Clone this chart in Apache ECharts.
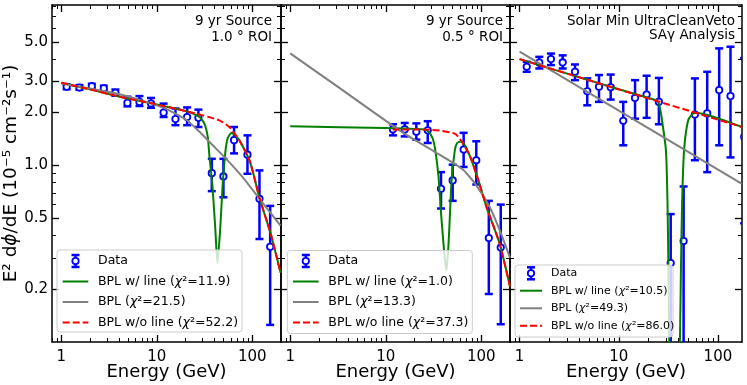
<!DOCTYPE html>
<html><head><meta charset="utf-8">
<script src="https://cdn.jsdelivr.net/npm/echarts@6/dist/echarts.min.js"></script>
<style>html,body{margin:0;padding:0;background:#fff}#c{width:747px;height:385px}</style>
</head><body><div id="c"></div>
<script>
// ---------------- data ----------------
const xMajorTicks = [1, 10, 100];
const xMinorTicks = [0.8, 0.9, 2, 3, 4, 5, 6, 7, 8, 9, 20, 30, 40, 50, 60, 70, 80, 90, 200];
const yMajorTicks = [0.2, 0.5, 1, 2, 3, 5];
const yMinorTicks = [0.3, 0.4, 0.6, 0.7, 0.8, 0.9, 4, 6, 7, 8];

// Panel 1: 9 yr Source, 1.0 deg ROI
const p1E  = [1.14, 1.55, 2.09, 2.79, 3.69, 4.93, 6.59, 8.71, 11.8, 15.7, 20.8, 27.3, 37.7, 49.9, 64.5, 89.1, 119, 154];
const p1V  = [2.79, 2.76, 2.81, 2.73, 2.58, 2.26, 2.29, 2.24, 1.99, 1.83, 1.88, 1.86, 0.904, 0.866, 1.39, 1.15, 0.647, 0.346];
const p1Lo = [2.70, 2.68, 2.72, 2.64, 2.48, 2.16, 2.17, 2.12, 1.88, 1.69, 1.69, 1.65, 0.715, 0.66, 1.17, 0.897, 0.383, 0.125];
const p1Hi = [2.88, 2.85, 2.90, 2.83, 2.69, 2.45, 2.47, 2.41, 2.24, 2.10, 2.13, 2.07, 1.09, 1.09, 1.65, 1.48, 0.937, 0.59];
const p1Green = [[1,2.94],[1.82,2.73],[4.07,2.45],[9.1,2.24],[20.2,2.03],[28,1.88],[31.6,1.72],[34.2,1.45],[35.6,1.13],[38.4,0.75],[41.1,0.43],[43.2,0.279],[46.1,0.43],[48.8,0.75],[52.1,1.17],[55.1,1.42],[60.6,1.53],[67,1.47],[73.3,1.39],[93.4,1.07],[105,0.858],[118.5,0.66],[156,0.41],[198,0.247]];
const p1Gray  = [[1,2.91],[4.07,2.53],[11.5,2.13],[20.2,1.82],[28,1.55],[38.6,1.30],[53.3,1.09],[79.3,0.858],[119,0.647],[198,0.456]];
const p1Red   = [[1,2.94],[1.82,2.73],[4.07,2.45],[9.1,2.24],[20.2,2.03],[30.3,1.92],[45.2,1.80],[57.6,1.65],[73.3,1.39],[93.4,1.07],[105,0.858],[118.5,0.66],[156,0.41],[198,0.247]];
const p1Labels = ['Data', 'BPL w/ line (χ²=11.9)', 'BPL (χ²=21.5)', 'BPL w/o line (χ²=52.2)'];

// Panel 2: 9 yr Source, 0.5 deg ROI
const p2E  = [11.9, 15.8, 20.9, 27.5, 37.9, 50.2, 65.4, 88.7, 120, 160];
const p2V  = [1.60, 1.60, 1.55, 1.58, 0.737, 0.822, 1.23, 1.07, 0.388, 0.343];
const p2Lo = [1.48, 1.46, 1.40, 1.34, 0.57, 0.63, 0.98, 0.78, 0.187, 0.126];
const p2Hi = [1.71, 1.74, 1.73, 1.78, 0.916, 1.01, 1.53, 1.37, 0.63, 0.60];
const p2Green = [[1,1.665],[10,1.63],[25,1.60],[28.1,1.55],[31,1.42],[33,1.22],[35.7,0.86],[38.2,0.51],[41,0.32],[43.2,0.254],[45,0.33],[46.2,0.43],[48.9,0.82],[52.9,1.22],[55.5,1.33],[58.9,1.36],[62.8,1.36],[76.6,1.12],[93.5,0.82],[113.8,0.58],[156,0.36],[200,0.206]];
const p2Gray  = [[1,4.31],[3,2.84],[14.7,1.55],[33,1.19],[62.7,0.957],[86.6,0.787],[123,0.58],[156,0.43],[200,0.30]];
const p2Red   = [[11.8,1.60],[20,1.60],[30,1.59],[38.6,1.57],[53.4,1.51],[62.8,1.36],[76.6,1.12],[93.5,0.82],[113.8,0.58],[156,0.36],[200,0.206]];
const p2Labels = ['Data', 'BPL w/ line (χ²=1.0)', 'BPL (χ²=13.3)', 'BPL w/o line (χ²=37.3)'];

// Panel 3: Solar Min UltraCleanVeto, SAγ Analysis
const p3E  = [1.18, 1.58, 2.07, 2.72, 3.62, 4.81, 6.32, 8.29, 11.1, 14.6, 19.1, 25.4, 33.4, 45.1, 58.6, 78.0, 103, 134, 184];
const p3V  = [3.62, 3.82, 4.00, 3.83, 3.39, 2.63, 2.79, 2.77, 1.79, 2.41, 2.52, 2.29, 0.28, 0.373, 1.94, 1.97, 2.67, 2.47, 1.45];
const p3Lo = [3.39, 3.54, 3.70, 3.54, 3.04, 2.19, 2.29, 2.36, 1.30, 1.84, 1.86, 1.71, 0.02, 0.02, 1.07, 0.916, 1.30, 1.11, 0.47];
const p3Hi = [3.86, 4.12, 4.30, 4.20, 3.73, 3.11, 3.25, 3.27, 2.29, 3.04, 3.22, 3.13, 0.53, 0.76, 3.11, 3.39, 4.60, 4.70, 4.06];
const p3Green = [[1,4.0],[10,2.70],[24.1,2.33],[25.5,2.22],[27,1.88],[29.9,1.22],[31,0.63],[31.7,0.264],[32.2,0.11],[36.6,0.005],[41.5,0.11],[42.4,0.264],[43.6,0.63],[45.6,1.22],[50.1,1.8],[56.3,1.97],[60,1.99],[175,1.65]];
const p3Gray  = [[1,4.41],[175,0.787]];
const p3Red   = [[1,4.0],[175,1.65]];
const p3Labels = ['Data', 'BPL w/ line (χ²=10.5)', 'BPL (χ²=49.3)', 'BPL w/o line (χ²=86.0)'];

const X_MIN = 0.8, X_MAX = 200, X_MAX3 = 175, Y_MIN = 0.1, Y_MAX = 8.1;

// ---------------- chart ----------------
const FONT = 'DejaVu Sans';
const BLUE = '#0000ff', GREEN = '#008000', GRAY = '#808080', RED = '#ff0000';
const chart = echarts.init(document.getElementById('c'), null, {renderer: 'canvas'});

const grids = [
  {left: 52, top: 5, width: 229, height: 337},
  {left: 281, top: 5, width: 229, height: 337},
  {left: 510, top: 5, width: 232, height: 337}
].map(g => Object.assign({outerBoundsMode: 'none', containLabel: false}, g));

const majorTick = vals => ({show: true, inside: true, length: 7, lineStyle: {color: '#000', width: 1.3}, customValues: vals});
const minorTick = vals => ({show: true, inside: true, length: 4, lineStyle: {color: '#000', width: 1}, customValues: vals});
const frameLine = {show: true, lineStyle: {color: '#000', width: 1.5}};

function makeX(g, max) {
  const base = {type: 'log', logBase: 10, gridIndex: g, min: X_MIN, max: max, splitLine: {show: false}};
  return [
    Object.assign({}, base, {position: 'bottom', axisLine: frameLine, axisTick: majorTick(xMajorTicks),
      axisLabel: {show: true, customValues: xMajorTicks, formatter: v => String(Math.round(v)), color: '#000', fontSize: 15, fontFamily: FONT, margin: 8},
      name: 'Energy (GeV)', nameLocation: 'middle', nameGap: 21, nameMoveOverlap: false,
      nameTextStyle: {fontSize: 18, fontFamily: FONT, color: '#000'}}),
    Object.assign({}, base, {position: 'bottom', axisLine: {show: false}, axisTick: minorTick(xMinorTicks), axisLabel: {show: false}}),
    Object.assign({}, base, {position: 'top', axisLine: frameLine, axisTick: majorTick(xMajorTicks), axisLabel: {show: false}}),
    Object.assign({}, base, {position: 'top', axisLine: {show: false}, axisTick: minorTick(xMinorTicks), axisLabel: {show: false}})
  ];
}
function makeY(g, labels) {
  const base = {type: 'log', logBase: 10, gridIndex: g, min: Y_MIN, max: Y_MAX, splitLine: {show: false}};
  const left = Object.assign({}, base, {position: 'left', axisLine: frameLine, axisTick: majorTick(yMajorTicks),
    axisLabel: labels ? {show: true, customValues: yMajorTicks, formatter: v => Number(v).toFixed(1), color: '#000', fontSize: 15, fontFamily: FONT, margin: 4} : {show: false}});
  if (labels) {
    left.name = 'E² d{it|ϕ}/dE (10⁻⁵ cm⁻²s⁻¹)';
    left.nameLocation = 'middle';
    left.nameGap = 30;
    left.nameTextStyle = {fontSize: 18.5, fontFamily: FONT, color: '#000', rich: {it: {fontStyle: 'italic', fontSize: 18.5, fontFamily: FONT}}};
  }
  return [
    left,
    Object.assign({}, base, {position: 'left', axisLine: {show: false}, axisTick: minorTick(yMinorTicks), axisLabel: {show: false}}),
    Object.assign({}, base, {position: 'right', axisLine: frameLine, axisTick: majorTick(yMajorTicks), axisLabel: {show: false}}),
    Object.assign({}, base, {position: 'right', axisLine: {show: false}, axisTick: minorTick(yMinorTicks), axisLabel: {show: false}})
  ];
}

function errRender(params, api) {
  const x = api.value(0), y = api.value(1), lo = api.value(2), hi = api.value(3);
  const pL = api.coord([x, lo]), pH = api.coord([x, hi]), pC = api.coord([x, y]);
  const cw = 4, st = {stroke: BLUE, lineWidth: 2.5};
  return {type: 'group', children: [
    {type: 'line', shape: {x1: pL[0], y1: pL[1], x2: pH[0], y2: pH[1]}, style: st},
    {type: 'line', shape: {x1: pL[0] - cw, y1: pL[1], x2: pL[0] + cw, y2: pL[1]}, style: st},
    {type: 'line', shape: {x1: pH[0] - cw, y1: pH[1], x2: pH[0] + cw, y2: pH[1]}, style: st},
    {type: 'circle', shape: {cx: pC[0], cy: pC[1], r: 3.2}, style: {fill: '#ffffff', stroke: BLUE, lineWidth: 1.8}}
  ]};
}

function panelSeries(p, E, V, Lo, Hi, green, gray, red) {
  const ax = {xAxisIndex: 4 * p, yAxisIndex: 4 * p};
  const line = (data, color, type, z) => Object.assign({type: 'line', data: data, showSymbol: false, symbol: 'none', smooth: 0.2, clip: true, z: z,
    lineStyle: {color: color, width: 2, type: type, dashOffset: 0}, silent: true}, ax);
  return [
    Object.assign({type: 'custom', renderItem: errRender, clip: true, z: 2, silent: true,
      data: E.map((e, i) => [e, V[i], Lo[i], Hi[i]]), encode: {x: 0, y: 1}}, ax),
    line(green, GREEN, 'solid', 3),
    line(gray, GRAY, 'solid', 4),
    line(red, RED, [7, 3], 5)
  ];
}

function legendGraphic(box, rows, sym, textX, fs, labels) {
  const els = [{type: 'rect', z: 100, shape: {x: box[0], y: box[1], width: box[2], height: box[3], r: 3},
    style: {fill: 'rgba(255,255,255,0.8)', stroke: '#cccccc', lineWidth: 1}}];
  const cx = (sym[0] + sym[1]) / 2, cy = rows[0], st = {stroke: BLUE, lineWidth: 2.5};
  els.push({type: 'line', z: 101, shape: {x1: cx, y1: cy - 6, x2: cx, y2: cy + 6}, style: st});
  els.push({type: 'line', z: 101, shape: {x1: cx - 4, y1: cy - 6, x2: cx + 4, y2: cy - 6}, style: st});
  els.push({type: 'line', z: 101, shape: {x1: cx - 4, y1: cy + 6, x2: cx + 4, y2: cy + 6}, style: st});
  els.push({type: 'circle', z: 102, shape: {cx: cx, cy: cy, r: 3.2}, style: {fill: '#fff', stroke: BLUE, lineWidth: 1.8}});
  const styles = [null, {stroke: GREEN, lineWidth: 2}, {stroke: GRAY, lineWidth: 2}, {stroke: RED, lineWidth: 2, lineDash: [7, 3]}];
  for (let i = 1; i < 4; i++) {
    els.push({type: 'line', z: 101, shape: {x1: sym[0], y1: rows[i], x2: sym[1], y2: rows[i]}, style: styles[i]});
  }
  for (let i = 0; i < 4; i++) {
    const t = labels[i].replace('χ', '{it|χ}');
    els.push({type: 'text', z: 101, x: textX, y: rows[i], style: {text: t, fill: '#000', fontSize: fs, fontFamily: FONT,
      verticalAlign: 'middle', align: 'left', rich: {it: {fontStyle: 'italic', fontSize: fs, fontFamily: FONT}}}});
  }
  return els;
}
function titleGraphic(x, lines, ys, fs) {
  return lines.map((l, i) => ({type: 'text', z: 50, x: x, y: ys[i], style: {text: l, fill: '#000', fontSize: fs, fontFamily: FONT, align: 'right', verticalAlign: 'middle'}}));
}

const option = {
  animation: false,
  backgroundColor: '#ffffff',
  grid: grids,
  xAxis: [].concat(makeX(0, X_MAX), makeX(1, X_MAX), makeX(2, X_MAX3)),
  yAxis: [].concat(makeY(0, true), makeY(1, false), makeY(2, false)),
  series: [].concat(
    panelSeries(0, p1E, p1V, p1Lo, p1Hi, p1Green, p1Gray, p1Red),
    panelSeries(1, p2E, p2V, p2Lo, p2Hi, p2Green, p2Gray, p2Red),
    panelSeries(2, p3E, p3V, p3Lo, p3Hi, p3Green, p3Gray, p3Red)
  ),
  graphic: {elements: [].concat(
    titleGraphic(272, ['9 yr Source', '1.0 ° ROI'], [21.8, 37], 13.5),
    titleGraphic(503, ['9 yr Source', '0.5 ° ROI'], [21.8, 37], 13.5),
    titleGraphic(735, ['Solar Min UltraCleanVeto', 'SAγ Analysis'], [21.5, 35.5], 13.5),
    legendGraphic([57, 250, 185, 82], [261, 281.5, 302, 322.5], [62.7, 88.3], 98, 12.5, p1Labels),
    legendGraphic([287.3, 250.5, 185, 83], [261, 281.5, 302, 322.5], [293, 318.6], 328.3, 12.5, p2Labels),
    legendGraphic([515, 265, 158, 72], [273.3, 290.7, 308.3, 325.7], [520, 542], 551, 11, p3Labels)
  )}
};
chart.setOption(option);
</script>
</body></html>
